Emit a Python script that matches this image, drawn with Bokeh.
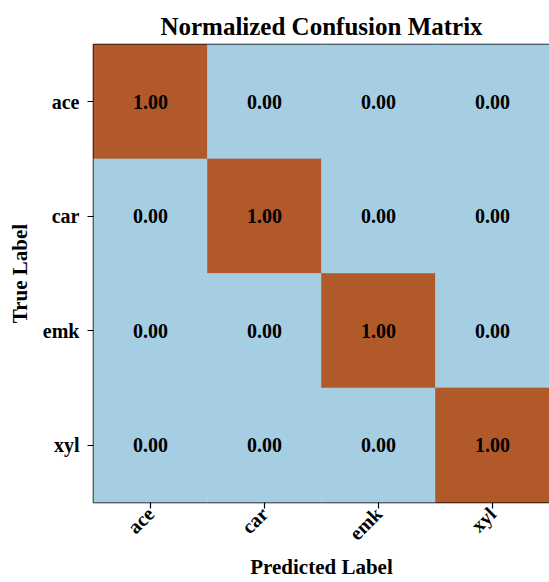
import math
from bokeh.plotting import figure
from bokeh.models import ColumnDataSource, FactorRange
from bokeh.core.properties import value
from bokeh.embed import file_html
from bokeh.resources import INLINE

labels = ["ace", "car", "emk", "xyl"]
matrix = [
    [1.00, 0.00, 0.00, 0.00],
    [0.00, 1.00, 0.00, 0.00],
    [0.00, 0.00, 1.00, 0.00],
    [0.00, 0.00, 0.00, 1.00],
]

LOW = "#a6cee3"
HIGH = "#b15928"
FONT = "Liberation Serif"

xs, ys, vals, cols, txt = [], [], [], [], []
for i, t in enumerate(labels):
    for j, pr in enumerate(labels):
        v = matrix[i][j]
        xs.append(pr)
        ys.append(t)
        vals.append(v)
        cols.append(HIGH if v >= 0.5 else LOW)
        txt.append(f"{v:.2f}")

src = ColumnDataSource(dict(x=xs, y=ys, v=vals, c=cols, t=txt))

p = figure(width=549, height=582, output_backend="svg", toolbar_location=None,
           x_range=FactorRange(*labels), y_range=FactorRange(*labels[::-1]),
           title="Normalized Confusion Matrix",
           min_border_left=93, min_border_right=0, min_border_top=44, min_border_bottom=80)

p.rect(x="x", y="y", width=1, height=1, source=src, fill_color="c", line_color="c", line_width=0.6)
p.text(x="x", y="y", text="t", source=src, text_align="center", text_baseline="middle",
       text_font=value(FONT), text_font_style="bold", text_font_size="20px", text_color="black")

p.title.align = "center"
p.title.text_font = FONT
p.title.text_font_size = "25px"
p.title.text_font_style = "bold"
p.title.text_color = "black"

p.grid.visible = False
p.outline_line_color = "black"
p.outline_line_width = 1.5
p.background_fill_color = "white"

for ax in (p.xaxis[0], p.yaxis[0]):
    ax.axis_line_color = None
    ax.major_tick_line_color = "black"
    ax.major_tick_line_width = 1.2
    ax.major_tick_out = 6
    ax.major_tick_in = 0
    ax.minor_tick_line_color = None
    ax.major_label_text_font = FONT
    ax.major_label_text_font_style = "bold"
    ax.major_label_text_font_size = "20px"
    ax.major_label_text_color = "black"
    ax.axis_label_text_font = FONT
    ax.axis_label_text_font_style = "bold"
    ax.axis_label_text_font_size = "21px"
    ax.axis_label_text_color = "black"

p.xaxis.axis_label = "Predicted Label"
p.yaxis.axis_label = "True Label"
p.xaxis.major_label_orientation = math.pi / 4
p.xaxis.major_label_standoff = 2
p.yaxis.major_label_standoff = 8
p.xaxis.axis_label_standoff = 0
p.yaxis.axis_label_standoff = 8

open("out.html", "w").write(file_html(p, INLINE))
